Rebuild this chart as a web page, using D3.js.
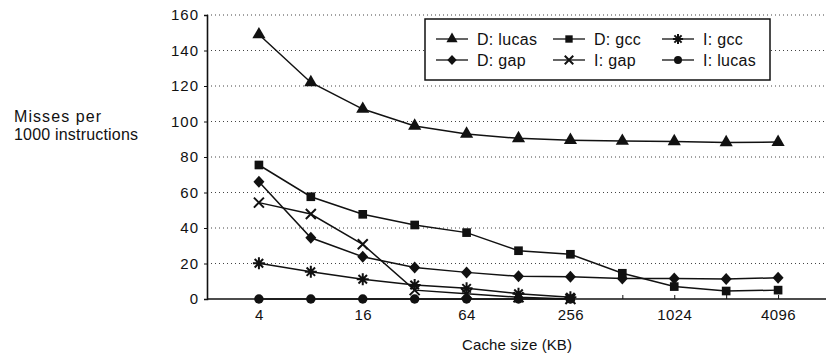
<!DOCTYPE html>
<html><head><meta charset="utf-8">
<script src="https://cdn.jsdelivr.net/npm/d3@7"></script>
<style>body{margin:0;background:#fff}svg{display:block}text{font-family:"Liberation Sans",Arial,sans-serif;fill:#111}</style>
</head><body><svg id="c" width="828" height="358"></svg>
<script>
const cacheSizes = [4, 8, 16, 32, 64, 128, 256, 512, 1024, 2048, 4096];
const xTickLabels = [4, 16, 64, 256, 1024, 4096];
const yTicks = [0, 20, 40, 60, 80, 100, 120, 140, 160];
const seriesNames = ["D: lucas", "D: gap", "D: gcc", "I: gap", "I: gcc", "I: lucas"];
const dLucas = [149, 122, 107, 97.5, 93, 90.5, 89.5, 89, 88.8, 88.2, 88.4];
const dGcc = [75.5, 57.6, 47.7, 41.7, 37.4, 27.2, 25.2, 14.5, 7, 4.5, 5];
const dGap = [66, 34.5, 23.8, 17.8, 15, 12.8, 12.6, 11.6, 11.5, 11.2, 12];
const iGap = [54.3, 47.9, 30.8, 5, 3, 1, 0];
const iGcc = [20.1, 15.4, 11.1, 7.9, 6, 3, 1];
const iLucas = [0, 0, 0, 0, 0, 0, 0];

const FONT = '"Liberation Sans",Arial,sans-serif';
const svg = d3.select("#c");
const x = d3.scaleLog().base(2).domain([2, 8192]).range([207, 830]);
const y = d3.scaleLinear().domain([0, 160]).range([299, 15]);

// gridlines
svg.append("g").selectAll("line").data(yTicks.filter(d => d > 0)).join("line")
  .attr("x1", 207).attr("x2", 826).attr("y1", d => y(d)).attr("y2", d => y(d))
  .attr("stroke", "#444").attr("stroke-width", 1).attr("stroke-dasharray", "1,3");

// y axis
const ya = svg.append("g").attr("transform", "translate(207,0)")
  .call(d3.axisLeft(y).tickValues(yTicks).tickSize(3).tickPadding(5));
ya.select(".domain").attr("stroke", "#111").attr("stroke-width", 1.6);
ya.selectAll(".tick line").attr("stroke", "#111");
ya.selectAll("text").attr("font-size", 15).attr("letter-spacing", "1px").style("font-family", FONT);

// x axis
const xa = svg.append("g").attr("transform", "translate(0,299)")
  .call(d3.axisBottom(x).tickValues(cacheSizes).tickSize(-4).tickPadding(10)
    .tickFormat(d => xTickLabels.includes(d) ? d : ""));
xa.select(".domain").attr("d", "M207,0H826").attr("stroke", "#111").attr("stroke-width", 1.6);
xa.selectAll(".tick line").attr("stroke", "#111");
xa.selectAll("text").attr("font-size", 15).attr("letter-spacing", "0.4px").style("font-family", FONT);

// axis titles
svg.append("text").attr("x", 517).attr("y", 350).attr("text-anchor", "middle").attr("font-size", 15)
  .attr("textLength", 110).attr("lengthAdjust", "spacing").text("Cache size (KB)");
svg.append("text").attr("x", 14).attr("y", 122).attr("font-size", 16)
  .attr("textLength", 87).attr("lengthAdjust", "spacing").text("Misses per");
svg.append("text").attr("x", 14).attr("y", 140).attr("font-size", 16)
  .attr("textLength", 124).attr("lengthAdjust", "spacing").text("1000 instructions");

// markers
function marker(g, type, cx, cy, k = 1) {
  if (type === "x") {
    const r = 5 * k;
    g.append("path").attr("d", `M${cx-r},${cy-r}L${cx+r},${cy+r}M${cx-r},${cy+r}L${cx+r},${cy-r}`)
      .attr("stroke", "#111").attr("stroke-width", 2).attr("fill", "none");
  } else if (type === "star") {
    const r = 6 * k, p = [];
    for (let i = 0; i < 4; i++) {
      const a = i * Math.PI / 4 + Math.PI / 2;
      p.push(`M${cx - r*Math.cos(a)},${cy - r*Math.sin(a)}L${cx + r*Math.cos(a)},${cy + r*Math.sin(a)}`);
    }
    g.append("path").attr("d", p.join("")).attr("stroke", "#111").attr("stroke-width", 2).attr("fill", "none");
  } else if (type === "diamond") {
    const w = 5.5 * k, h = 6 * k;
    g.append("path").attr("d", `M${cx},${cy-h}L${cx+w},${cy}L${cx},${cy+h}L${cx-w},${cy}Z`).attr("fill", "#111");
  } else {
    const s = {triangle: d3.symbolTriangle, square: d3.symbolSquare, circle: d3.symbolCircle};
    const size = {triangle: 75, square: 75, circle: 70}[type] * k * k;
    g.append("path").attr("d", d3.symbol().type(s[type]).size(size)())
      .attr("transform", `translate(${cx},${cy})`).attr("fill", "#111");
  }
}

const series = [
  {name: seriesNames[0], vals: dLucas, m: "triangle"},
  {name: seriesNames[1], vals: dGap, m: "diamond"},
  {name: seriesNames[2], vals: dGcc, m: "square"},
  {name: seriesNames[3], vals: iGap, m: "x"},
  {name: seriesNames[4], vals: iGcc, m: "star"},
  {name: seriesNames[5], vals: iLucas, m: "circle"}
];
const line = d3.line().x(d => x(d[0])).y(d => y(d[1]));
series.forEach(s => {
  const pts = s.vals.map((v, i) => [cacheSizes[i], v]);
  const g = svg.append("g");
  g.append("path").attr("d", line(pts)).attr("fill", "none").attr("stroke", "#111").attr("stroke-width", 1.5);
  pts.forEach(p => marker(g, s.m, x(p[0]), y(p[1])));
});

// legend
const lg = svg.append("g");
lg.append("rect").attr("x", 425).attr("y", 19).attr("width", 345).attr("height", 61)
  .attr("fill", "#fff").attr("stroke", "#111").attr("stroke-width", 1.5);
const cols = [436, 553, 662];
const rows = [39, 60];
const legOrder = [[0, 2, 4], [1, 3, 5]];
legOrder.forEach((r, ri) => r.forEach((si, ci) => {
  const s = series[si], lx = cols[ci], ly = rows[ri];
  lg.append("line").attr("x1", lx).attr("x2", lx + 32).attr("y1", ly).attr("y2", ly).attr("stroke", "#111").attr("stroke-width", 1.3);
  marker(lg, s.m, lx + 16, ly, 0.85);
  lg.append("text").attr("x", lx + 41).attr("y", ly + 6).attr("font-size", 16).attr("letter-spacing", "0.3px").text(s.name);
}));
</script></body></html>
